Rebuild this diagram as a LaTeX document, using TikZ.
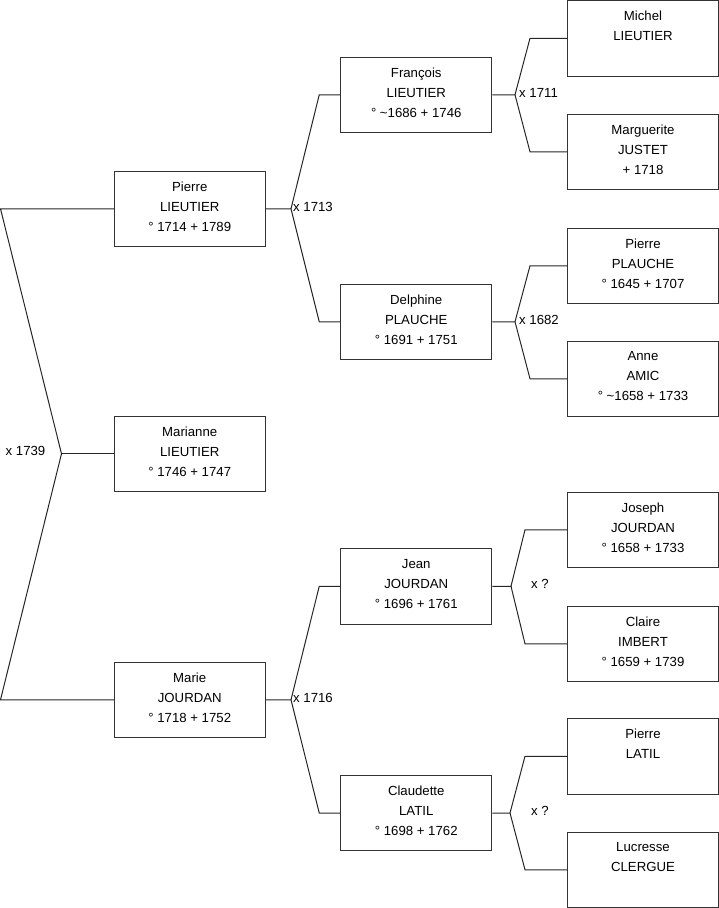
\documentclass[tikz,border=0pt]{standalone}
\usepackage{fontspec}
\setmainfont{Liberation Sans}
\begin{document}
\begin{tikzpicture}[x=1pt,y=-1pt,
 person/.style={draw=black!80,line width=1pt,minimum width=151pt,minimum height=75.5pt,align=center,inner sep=0pt,font=\fontsize{13.2}{20}\selectfont,execute at end node={\rule[-5pt]{0pt}{5pt}}},
 link/.style={line width=1pt,draw=black!85},
 lbl/.style={inner sep=0pt,font=\fontsize{13.2}{15}\selectfont}]
\useasboundingbox (0,0) rectangle (719,908);
% column 1
\node[person] (pierreL) at (189.75,208.75) {Pierre\\LIEUTIER\\° 1714 + 1789};
\node[person] (marianne) at (189.75,453.75) {Marianne\\LIEUTIER\\° 1746 + 1747};
\node[person] (marie) at (189.75,699.75) {Marie\\JOURDAN\\° 1718 + 1752};
% column 2
\node[person] (francois) at (416.25,94.75) {François\\LIEUTIER\\° \textasciitilde1686 + 1746};
\node[person] (delphine) at (416.25,321.75) {Delphine\\PLAUCHE\\° 1691 + 1751};
\node[person] (jean) at (416.25,586.25) {Jean\\JOURDAN\\° 1696 + 1761};
\node[person] (claudette) at (416.25,813) {Claudette\\LATIL\\° 1698 + 1762};
% column 3
\node[person] (michel) at (643,38.25) {Michel\\LIEUTIER\\\mbox{}};
\node[person] (marguerite) at (643,151.75) {Marguerite\\JUSTET\\+ 1718};
\node[person] (pierreP) at (643,265.75) {Pierre\\PLAUCHE\\° 1645 + 1707};
\node[person] (anne) at (643,378.75) {Anne\\AMIC\\° \textasciitilde1658 + 1733};
\node[person] (joseph) at (643,529.75) {Joseph\\JOURDAN\\° 1658 + 1733};
\node[person] (claire) at (643,643.75) {Claire\\IMBERT\\° 1659 + 1739};
\node[person] (pierreLat) at (643,756.25) {Pierre\\LATIL\\\mbox{}};
\node[person] (lucresse) at (643,869.75) {Lucresse\\CLERGUE\\\mbox{}};
% left junction
\coordinate (top) at (0.5,208.75);
\coordinate (jm) at (61.5,453.75);
\coordinate (bot) at (0.5,699.75);
\draw[link] (pierreL.west) -- (top) -- (jm) -- (bot) -- (marie.west);
\draw[link] (jm) -- (marianne.west);
\node[lbl,anchor=east] (l1739) at ([xshift=-16pt,yshift=3pt]jm) {x 1739};
% column 1 -> 2
\coordinate (j1) at (291,208.75);
\draw[link] (pierreL.east) -- (j1) -- ([xshift=-21pt]francois.west) -- (francois.west);
\draw[link] (j1) -- ([xshift=-21pt]delphine.west) -- (delphine.west);
\node[lbl,anchor=west] (l1713) at ([xshift=2pt,yshift=2pt]j1) {x 1713};
\coordinate (j2) at (291,699.75);
\draw[link] (marie.east) -- (j2) -- ([xshift=-21pt]jean.west) -- (jean.west);
\draw[link] (j2) -- ([xshift=-21pt]claudette.west) -- (claudette.west);
\node[lbl,anchor=west] (l1716) at ([xshift=2pt,yshift=2pt]j2) {x 1716};
% column 2 -> 3
\coordinate (j3) at (515,94.75);
\draw[link] (francois.east) -- (j3) -- ([xshift=-37pt]michel.west) -- (michel.west);
\draw[link] (j3) -- ([xshift=-37pt]marguerite.west) -- (marguerite.west);
\node[lbl,anchor=west] (l1711) at ([xshift=4pt,yshift=2pt]j3) {x 1711};
\coordinate (j4) at (515,321.75);
\draw[link] (delphine.east) -- (j4) -- ([xshift=-37pt]pierreP.west) -- (pierreP.west);
\draw[link] (j4) -- ([xshift=-37pt]anne.west) -- (anne.west);
\node[lbl,anchor=west] (l1682) at ([xshift=4pt,yshift=2pt]j4) {x 1682};
\coordinate (j5) at (511,586.25);
\draw[link] (jean.east) -- (j5) -- ([xshift=-42pt]joseph.west) -- (joseph.west);
\draw[link] (j5) -- ([xshift=-42pt]claire.west) -- (claire.west);
\node[lbl,anchor=west] (lq1) at ([xshift=20pt,yshift=2pt]j5) {x ?};
\coordinate (j6) at (510,813);
\draw[link] (claudette.east) -- (j6) -- ([xshift=-42pt]pierreLat.west) -- (pierreLat.west);
\draw[link] (j6) -- ([xshift=-42pt]lucresse.west) -- (lucresse.west);
\node[lbl,anchor=west] (lq2) at ([xshift=21pt,yshift=2pt]j6) {x ?};
\end{tikzpicture}
\end{document}
